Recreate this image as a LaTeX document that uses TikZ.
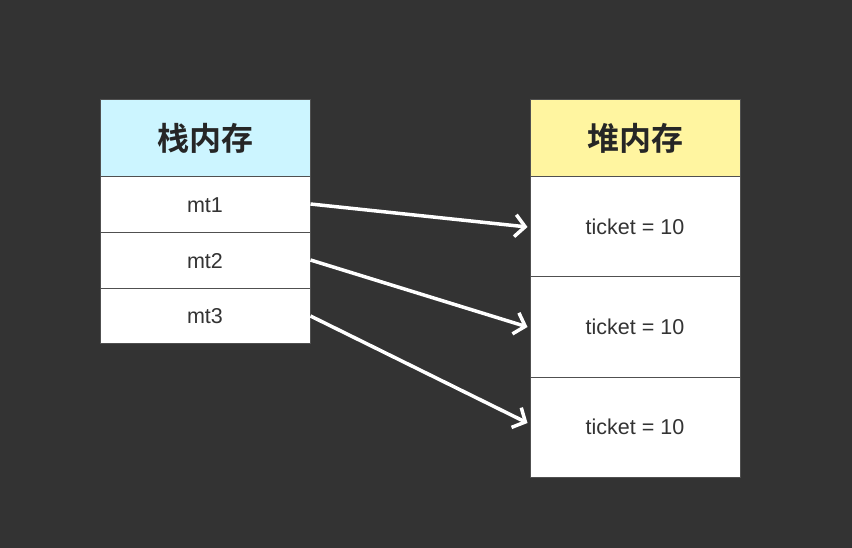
\documentclass[tikz,border=0pt]{standalone}
\usepackage{fontspec}
\setmainfont{Liberation Sans}
\newfontfamily\cjk{Noto Sans CJK SC}[BoldFont=* Bold]
\usetikzlibrary{arrows.meta}
\definecolor{bgc}{HTML}{333333}
\definecolor{cyanh}{HTML}{CCF5FF}
\definecolor{yellh}{HTML}{FFF5A0}
\definecolor{edgec}{HTML}{505050}
\tikzset{
  cell/.style={draw=edgec, line width=1pt, fill=white, minimum width=210pt, inner sep=0pt, font=\fontsize{21.5}{21.5}\selectfont, text=black!80},
  head/.style={draw=edgec, line width=1pt, minimum width=210pt, minimum height=77pt, inner sep=0pt, font=\cjk\bfseries\fontsize{32}{32}\selectfont, text=black!85},
  ptr/.style={draw=white, line width=3.5pt, -{Straight Barb[length=10pt,width=22pt,line width=3.5pt]}}
}
\begin{document}
\begin{tikzpicture}[x=1pt,y=-1pt]
\fill[bgc] (0,0) rectangle (852,548);
\useasboundingbox (0,0) rectangle (852,548);
% left table
\node[head, fill=cyanh] (sh) at (205,138.5) {栈内存};
\node[cell, minimum height=56pt] (m1) at (205,205) {mt1};
\node[cell, minimum height=56pt] (m2) at (205,261) {mt2};
\node[cell, minimum height=54pt] (m3) at (205,316) {mt3};
% right table
\node[head, fill=yellh] (hh) at (635,138.5) {堆内存};
\node[cell, minimum height=100pt] (t1) at (635,227) {ticket = 10};
\node[cell, minimum height=100pt] (t2) at (635,327) {ticket = 10};
\node[cell, minimum height=100pt] (t3) at (635,427) {ticket = 10};
% arrows
\draw[ptr] ([yshift=1pt]m1.east) -- ([xshift=-2pt]t1.west);
\draw[ptr] ([yshift=1pt]m2.east) -- ([xshift=-2pt]t2.west);
\draw[ptr] ([yshift=0pt]m3.east) -- ([xshift=-2pt,yshift=4pt]t3.west);
\end{tikzpicture}
\end{document}
